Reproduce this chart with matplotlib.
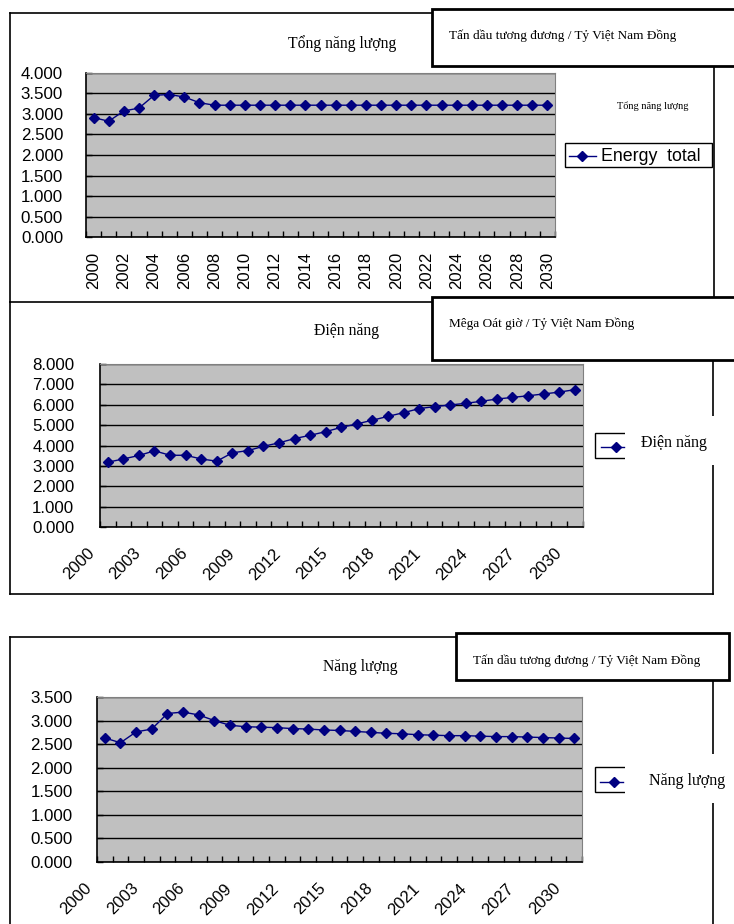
import matplotlib
matplotlib.use("Agg")
import matplotlib.pyplot as plt
from matplotlib.lines import Line2D
from matplotlib.patches import Rectangle
from matplotlib.transforms import ScaledTranslation

years = list(range(2000, 2031))

energy_total = [2.91, 2.82, 3.07, 3.14, 3.45, 3.47, 3.41, 3.27] + [3.21] * 23

electricity = [3.18, 3.34, 3.51, 3.74, 3.52, 3.52, 3.34, 3.23, 3.64, 3.75,
               3.96, 4.13, 4.34, 4.50, 4.68, 4.89, 5.06, 5.24, 5.43, 5.61,
               5.81, 5.91, 5.99, 6.07, 6.17, 6.28, 6.36, 6.44, 6.53, 6.62,
               6.74]

energy = [2.63, 2.53, 2.76, 2.82, 3.15, 3.18, 3.12, 3.00, 2.90, 2.87,
          2.86, 2.85, 2.83, 2.82, 2.80, 2.79, 2.77, 2.75, 2.73, 2.72,
          2.70, 2.69, 2.68, 2.68, 2.67, 2.66, 2.66, 2.65, 2.64, 2.63,
          2.62]

titles = ["Tổng năng lượng", "Điện năng", "Năng lượng"]
units = ["Tấn dầu tương đương / Tỷ Việt Nam Đồng",
         "Mêga Oát giờ / Tỷ Việt Nam Đồng",
         "Tấn dầu tương đương / Tỷ Việt Nam Đồng"]
legend_names = ["Energy  total", "Điện năng", "Năng lượng"]

W, H = 734, 924
NAVY = "#000080"
SANS = "Liberation Sans"
SERIF = "Liberation Serif"

fig = plt.figure(figsize=(W / 100, H / 100), dpi=100)


def fx(x):
    return x / W


def fy(y):
    return 1 - y / H


def line(x0, y0, x1, y1, lw=1.2, z=5):
    fig.add_artist(Line2D([fx(x0), fx(x1)], [fy(y0), fy(y1)],
                          transform=fig.transFigure, color="black", lw=lw, zorder=z))


def rect(x0, y0, x1, y1, lw=2.0, edge="black", z=6):
    fig.add_artist(Rectangle((fx(x0), fy(y1)), (x1 - x0) / W, (y1 - y0) / H,
                             transform=fig.transFigure, facecolor="white",
                             edgecolor=edge, lw=lw, zorder=z))


def text(x, y, s, size, family=SERIF, ha="left", z=8):
    fig.text(fx(x), fy(y), s, fontsize=size, family=family, ha=ha, va="center", zorder=z)


def panel(box, values, ymax, ystep, every, rot, ypad):
    x0, y0, x1, y1 = box
    ax = fig.add_axes([fx(x0), fy(y1), (x1 - x0) / W, (y1 - y0) / H])
    ax.set_facecolor("#C0C0C0")
    idx = list(range(len(years)))
    ax.plot(idx, values, color=NAVY, lw=1.0, marker="D", markersize=5, zorder=3)
    ax.set_xlim(-0.5, len(years) - 0.5)
    ax.set_ylim(0, ymax)
    nt = int(round(ymax / ystep))
    yt = [i * ystep for i in range(nt + 1)]
    ax.set_yticks(yt, [f"{v:.3f}" for v in yt])
    ax.yaxis.grid(True, color="black", lw=1.0)
    ax.set_axisbelow(True)
    ax.set_xticks(idx[::every], [str(y) for y in years[::every]])
    ax.set_xticks([i - 0.5 for i in range(len(years) + 1)], minor=True)
    ax.tick_params(axis="x", which="major", length=0, labelsize=12, pad=10.4 if rot == 90 else 0)
    ax.tick_params(axis="x", which="minor", direction="in", length=4, width=1)
    ax.tick_params(axis="y", direction="in", length=4, width=1, labelsize=12.2, pad=ypad)
    for lab in ax.get_xticklabels() + ax.get_yticklabels():
        lab.set_family(SANS)
    for side in ("top", "right"):
        ax.spines[side].set_color("#808080")
    ax.spines["left"].set_linewidth(1.2)
    ax.spines["bottom"].set_linewidth(1.2)
    if rot == 90:
        for lab in ax.get_xticklabels():
            lab.set_rotation(90)
            lab.set_ha("center")
            lab.set_va("top")
    else:
        shift = ScaledTranslation(-16 / 100, -24 / 100, fig.dpi_scale_trans)
        for lab in ax.get_xticklabels():
            lab.set_rotation(45)
            lab.set_ha("right")
            lab.set_va("center")
            lab.set_rotation_mode("anchor")
            lab.set_transform(lab.get_transform() + shift)
    return ax


def legend_sample(xa, xb, xm, y):
    fig.add_artist(Line2D([fx(xa), fx(xb)], [fy(y), fy(y)], transform=fig.transFigure,
                          color=NAVY, lw=1.0, zorder=9))
    fig.add_artist(Line2D([fx(xm)], [fy(y)], transform=fig.transFigure, color=NAVY,
                          marker="D", markersize=5, zorder=9))


# Tổng năng lượng
panel((86, 72.7, 555, 237.3), energy_total, 4.0, 0.5, 2, 90, 16.5)
line(10, 13, 432, 13)
line(10, 13, 10, 302)
line(714, 66, 714, 300)
rect(432, 8.5, 745, 65.5)
text(449, 36, units[0], 9.5)
text(342, 44, titles[0], 11.3, ha="center")
text(653, 106.5, titles[0], 7.5, ha="center")
rect(565, 143, 711.5, 167, lw=1.0)
legend_sample(569, 596, 582, 155.5)
text(601, 156.5, legend_names[0], 12.8, family=SANS)

# Điện năng
panel((100, 364, 582.5, 527), electricity, 8.0, 1.0, 3, 45, 18.5)
line(10, 302, 432, 302)
line(10, 302, 10, 594)
line(10, 594, 713, 594)
line(713, 360, 713, 594)
rect(432, 297, 745, 360)
text(449, 324, units[1], 9.5)
text(347, 331, titles[1], 11.3, ha="center")
rect(594.5, 433, 700, 458, lw=1.0)
rect(625, 416, 745, 465, lw=0, edge="none", z=7)
legend_sample(601, 624, 616, 446.5)
text(641, 443, legend_names[1], 11.5)

# Năng lượng
panel((97, 697, 582, 862), energy, 3.5, 0.5, 3, 45, 17.5)
line(10, 637, 456, 637)
line(10, 637, 10, 930)
line(713, 680, 713, 930)
rect(456, 633, 729, 680)
text(473, 661, units[2], 9.5)
text(360, 667, titles[2], 11.3, ha="center")
rect(594.5, 767, 700, 791.5, lw=1.0)
rect(625, 754, 745, 803, lw=0, edge="none", z=7)
legend_sample(600, 623, 614, 782)
text(649, 781, legend_names[2], 11.5)

fig.savefig("out.png", dpi=100)
